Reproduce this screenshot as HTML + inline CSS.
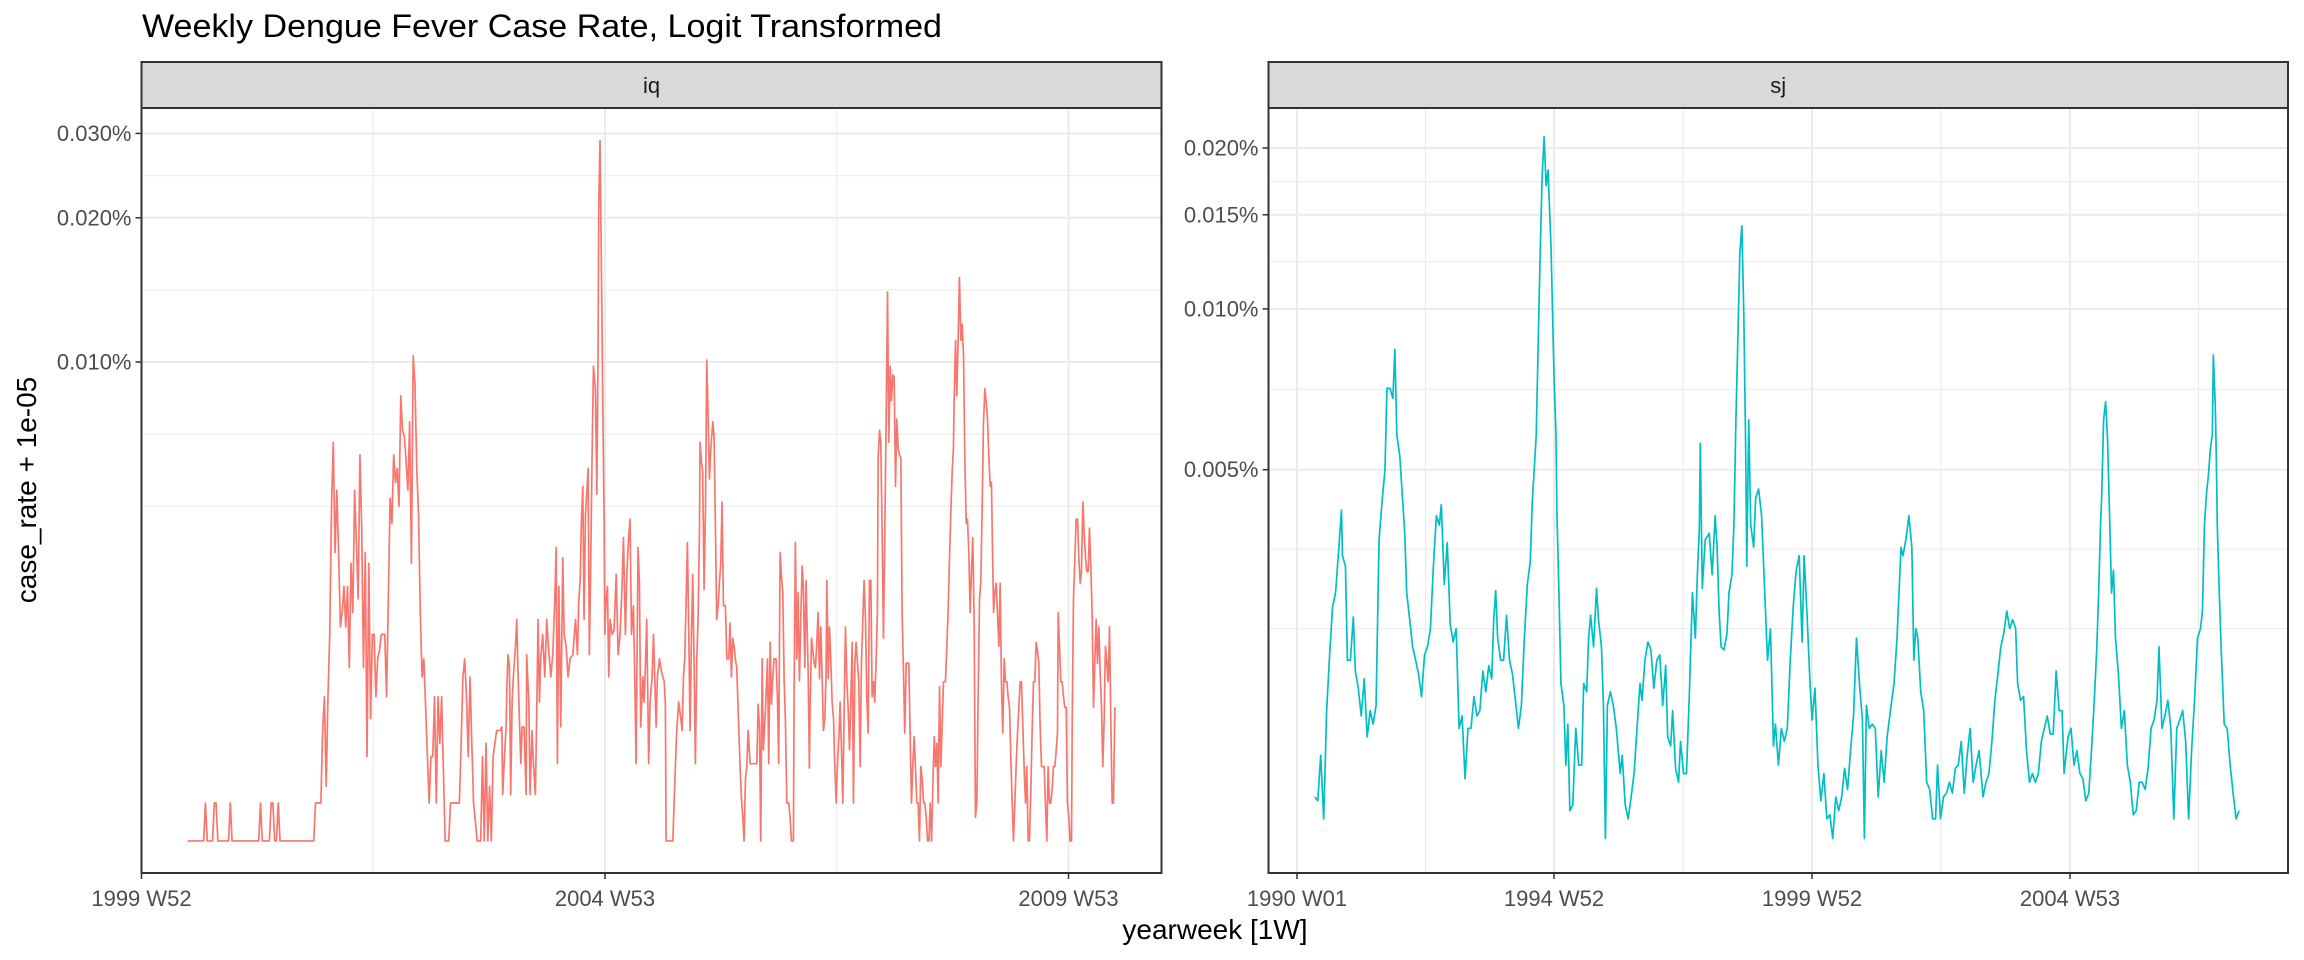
<!DOCTYPE html>
<html><head><meta charset="utf-8"><title>Weekly Dengue Fever Case Rate</title>
<style>
html,body{margin:0;padding:0;background:#fff;}
svg{display:block;font-family:"Liberation Sans",Arial,sans-serif;}
</style></head>
<body>
<svg id="chart" width="2304" height="960" viewBox="0 0 2304 960" xmlns="http://www.w3.org/2000/svg">
<rect width="2304" height="960" fill="#fff"/>
<text x="142" y="37" font-size="32" fill="#000" textLength="800" lengthAdjust="spacingAndGlyphs">Weekly Dengue Fever Case Rate, Logit Transformed</text>
<text transform="translate(36,490) rotate(-90)" text-anchor="middle" font-size="28" fill="#000">case_rate + 1e-05</text>
<text x="1215" y="939" text-anchor="middle" font-size="28" fill="#000">yearweek [1W]</text>
<defs>
<clipPath id="clipIq"><rect x="141.5" y="108" width="1020" height="765"/></clipPath>
<clipPath id="clipSj"><rect x="1268.5" y="108" width="1019.5" height="765"/></clipPath>
</defs>
<g id="panels"></g>
</svg>
<script>
// ---------- iq data (case_rate per million) ----------
// weekly readings starting 2000 W26 (week 26 after 1999 W52)
const iqStartWeek = 26;
const iqRateA = [0,0,0,0,0,0,0,0,0,0, 2,0,0,0,0,2,2,0,0,0, 0,0,0,0,2,0,0,0,0,0, 0,0,0,0,0,0,0,0,0,0,
0,2,0,0,0,0,0,2,2,0, 0,2,0,0,0,0,0,0,0,0, 0,0,0,0,0,0,0,0,0,0, 0,0,2,2,2,2,
7,10,3,10,17,40,58,30,44,30,18,20,24,18,24,13,28,20,44,32,22,54,35,13,30,5,28,8,17,17,
10,14,15,17,17,17,10,22,42,36,54,46,50,40,75,62,60,52,44,65,28,93,80,50,38,20,12,14,9,5,
2,5,5,10,2,10,6,10,4,0,0,0,2,2,2,2,2,2,6,12,14,10,5,12,6,2,1,0,0,0,5,0,6,0,3,0,5,6,7,7,7];
// later readings: weeks since 1999 W52
const iqWeekB = [202.9,203.4,204.2,205.3,205.7,206.4,207.2,207.9,208.7,209.4,210.6,211.3,212.1,212.8,213.6,214.3,215.4,216.6,216.9,218.1,
218.8,219.9,220.7,221.8,222.6,223.3,224.1,224.8,225.9,227.1,228.2,229.3,230.5,231.6,232.7,233.5,234.2,235,236.1,237.2,
238,239.1,240.2,241.3,242.9,244.4,245.5,246.2,247,247.7,248.5,249.2,250,250.7,251.5,252.2,253,253.7,254.5,255.6,
256.4,257.1,257.5,258.2,259,259.7,260.5,260.9,261.6,262.4,263.1,263.9,265,266.1,267.3,268.4,269.5,270.6,271.4,272.5,
273.3,274,275.1,275.9,277,277.8,278.5,279.6,280.4,281.1,282.3,283,283.8,284.5,285.6,286.4,287.5,288.3,289,289.8,
290.5,291.7,292.4,293.5,294.3,295,295.4,297.3,299.2,299.9,300.7,301.4,302.5,303.7,304.4,305.2,305.9,306.7,307.4,308.2,
308.9,309.7,310.4,311.2,311.9,312.7,313.4,314.2,314.5,315.3,316,316.8,317.6,318.3,319.1,319.8,320.6,321.7,322.4,323.2,
323.9,324.7,325.4,326.2,326.9,327.7,328.8,329.6,330.7,331.4,332.2,332.9,333.7,334.4,335.2,336.3,337.1,337.8,338.6,339.3,
340.1,340.8,341.6,342.7,343.8,345,346.5,347.2,348,348.7,349.5,350.2,351.3,352.5,353.2,354,354.7,355.5,356.2,357.3,
358.1,358.8,359.6,360.3,361.1,361.9,362.6,363.4,364.5,365.2,366,367.1,367.5,368.2,369,369.7,370.5,371.2,372,372.7,
373.5,374.2,375.4,376.1,
376.5,377.3,378.0,378.8,379.5,380.3,381.0,381.8,382.5,383.3,384.0,384.8,385.5,385.9,386.7,387.4,388.2,388.9,389.7,390.4,
391.2,391.9,392.7,393.4,394.2,394.9,395.7,396.4,397.2,397.9,398.7,399.4,400.2,400.9,401.7,402.4,403.2,403.9,404.7,405.4,
406.2,406.9,407.7,408.4,409.2,409.9,410.7,411.4,412.2,412.9,413.7,414.4,414.8,415.6,416.3,417.1,417.8,418.6,419.3,420.1,
420.8,421.6,422.3,423.1,423.8,424.6,425.3,426.1,426.8,427.6,428.3,429.1,429.8,430.6,431.3,432.1,432.8,433.6,434.3,435.1,
435.8,436.6,437.3,438.1,438.8,439.6,440.4,441.1,441.9,442.6,443.4,444.1,444.9,445.6,446.4,447.1,447.9,448.6,449.4,450.1,
450.9,451.6,452.7,453.5,454.2,455.0,455.7,456.5,457.2,457.6,458.4,459.1,459.9,460.6,461.4,462.1,462.9,463.6,464.4,465.1,
465.9,466.6,467.4,468.1,468.9,469.6,470.4,471.1,471.9,472.6,473.4,474.1,474.9,475.6,476.4,477.1,477.9,478.6,479.4,479.8,
480.5,481.3,482.0,482.8,483.5,484.3,485.0,485.8,486.5,487.3,488.0,488.8,489.5,490.3,491.0,491.8,492.5,493.3,494.0,494.8,
495.5,496.3,497.0,497.8,498.5,499.3,500.0,500.8,501.5,502.3,503.0,503.8,504.5,505.3,506.0,506.8,507.5,508.3,509.0,509.8,
510.5,511.3,512.0,512.8,513.5,514.3,515.0,515.8,516.2,516.9,517.7,518.4,519.2,519.9,520.7,521.4,522.2,522.9,523.7,524.1,
524.8,525.6,526.3,527.1,527.8,528.6,529.3,530.1,530.8,531.6,532.3,533.1,533.8,534.6,535.3,536.1,536.8,537.6,538.3,539.1,
539.8,540.6,541.3,542.1,542.8,543.6,544.3,545.1,545.8,546.6,547.3,548.1];
const iqRateB = [7.3,2.5,4.5,7.3,10.6,14.5,13,2.5,9.7,12,15.5,19,12,8,4.5,7.3,7.3,2.5,14.5,9.5,
2.5,7,4.5,2.5,9,19,9.5,14,17,12,19,15,12,14.5,21.5,31,4.5,24,7.3,29,
17,15.5,12,14,14.5,19,14.5,21.5,25,36,45,19,38,43,50,14.5,29,53,88,78,
43,95,205,280,145,76,37,17,22,24,12,19,17,17.5,26,14.5,17,24,33,17,
26,31,37,17,21,11.6,4.5,31,24.5,7.3,12,9.5,13.5,19,4.5,9.5,12,17,12,7.3,
12,14,13,12,11.6,9.3,0,0,0,2,4.5,7,9.5,8,7,12,14,22,32,17,
7,17,26,13,4.5,14,19,34,58,52,49,23.5,40,91,66,47,56,65,60,35,
19,21,24.5,28,41,21,21,14,14,18.5,12,16.5,15.5,14,13,7.3,4.2,2.3,1.2,0,
3.5,4.2,7,4.5,4.5,4.5,4.5,9.3,7.3,0,14,5.5,8.5,14,4.5,16,9.3,12,14,14,
10,4.5,30,26,23,11.6,7.7,2,2,1.2,0,0,10.6,32,14,23,11.6,18.5,27.5,24,
13,25,12.5,4.2,
9,16.5,15,13.5,13,16,20,11.8,18,11.8,7,8,12.5,25,11.8,18,13.5,9.5,8,4.3,
2,4.5,6.5,9.5,5.5,2,9,18,11.5,9,5.5,9.5,16,2,13.5,16,13.5,11.5,4.3,13.5,
19,25,19,10,6.8,25,25,10,11.5,9.5,14,20,53,62,58,33,16.5,35,66,130,
58,88,73,84,83,45,66,56,54,53,20,12.5,6.8,13.5,13.5,13.5,6.8,2,4.3,6.5,
4.3,2,2,0,4.3,3.5,2,2,1.2,0,0,2,0,3,6.5,4.3,6,2,11,4.3,
7.7,11.5,11.5,15.5,20,29,38,49,56,73,101,75,104,140,101,110,93,54,36,37,
30,20,27,33,18,1.2,2,10,22,24.5,40,64,78,73,66,54,45,46,27,20,
23,24.5,20,15.5,24.5,11,6.8,14,11.5,11.5,10,9,5,2,0,2,4.3,6.8,9,11.5,
11.5,7.3,4.3,2,4.3,0,0,2.8,6.8,11.5,11.5,16,15,13.5,7.5,4.3,4.3,4.3,2,0,
4.3,2,2,2.8,4.3,4.3,5.3,6.8,20,15.5,11.5,11.5,10,9,9,2,1.2,0,0,8,
22,29,37,37,29,24.5,26.5,41,34,29,26.5,26.5,35,27,20,9,13.5,19,13.5,18,
12.5,9,4.3,8,15.5,13.5,11.5,18,8,2,2,9];
const iqYTicks = [0.0001, 0.0002, 0.0003];
const iqYTickLabels = ["0.010%", "0.020%", "0.030%"];
const iqYMinor = [0.00005, 0.0000707, 0.0001414, 0.000245];
const iqXTicks = [0, 261, 522];
const iqXTickLabels = ["1999 W52", "2004 W53", "2009 W53"];
const iqXMinor = [130.5, 391.5];

// ---------- sj data (case_rate per million) ----------
const sjWeek = [18,21,24,27,30,33,36,39,42,45,46,49,51,54,57,59,62,65,68,71,74,77,80,83,86,89,91,94,97,99,
101,104,107,109,111,114,117,120,123,126,129,132,135,138,141,144,146,149,152,155,158,161,164,167,170,173,176,179,182,185,
188,191,194,197,199,201,203,206,209,212,215,218,221,224,227,230,233,236,238,242,244,246,248,250,252,254,
257,260,262,263,265,267,270,272,274,276,279,282,285,288,290,293,295,297,300,303,305,308,310,312,314,317,320,323,327,329,
332,335,338,341,344,347,349,352,355,358,361,364,367,370,373,375,378,380,383,386,388,391,394,397,400,403,405,407,408,410,
413,417,420,423,425,427,429,432,435,437,440,442,444,446,448,450,452,454,455,457,459,462,464,467,470,473,476,479,482,484,487,490,
493,496,499,502,505,508,511,513,516,519,521,524,527,530,533,536,539,542,545,548,551,554,557,560,563,566,569,572,574,576,
579,582,585,588,591,594,597,601,604,607,609,611,613,616,619,622,624,626,628,631,634,637,640,643,646,648,651,654,657,660,
663,666,669,672,675,678,681,684,687,690,694,697,700,703,706,709,712,715,718,721,724,727,729,
732,735,738,741,744,747,750,753,756,759,762,765,768,771,774,776,780,783,786,789,792,795,798,801,804,807,809,811,813,814,
816,818,820,822,824,826,828,831,834,837,840,843,846,849,852,855,858,861,864,867,870,872,875,878,881,884,887,890,893,896,
899,902,905,908,911,914,916,918,920,922,924,926,927,929,930,931,933,935,938,941,944,947,950,953];
const sjRate = [2.2,2,4.6,1.1,7.7,12.5,17.7,19.4,25,32,24.5,23,12,12,16.5,11,9.5,7.3,10.3,5.8,7.7,6.7,8.1,27,33.5,40,61,61,58,74,
48,43,33.5,28,19.4,16.2,13.3,12,10.7,8.8,12.5,13.3,15.2,23,31,29.4,33,20.5,26.5,15.7,13.8,15.2,6.4,7.3,3.2,6.4,6.4,8.8,7.3,7.7,
11,9.2,11.5,10.3,16.2,19.7,14.2,12,12,16.7,12,10.7,8.5,6.4,8.1,14.2,20.5,23.7,33.5,48,76,117,167,200,160,172,
120,65,48,31,19.4,9.9,8.1,4,6.7,1.5,1.8,6.4,4,4,9.9,9.2,14.2,16.7,13.3,20,16.2,13.3,8.1,0.2,8.1,9.2,8.1,6.4,3.5,4.6,
1.8,1.1,2.2,3.5,6.4,9.9,8.5,12,13.8,13,9.5,12,12.5,8.1,11.5,5.8,5.2,7.7,3.8,3,5.5,3.5,3.5,9.2,19.4,14.2,21.8,28.7,46,20,
27,28,21.8,31,25.8,17.2,13.3,13,14.7,19.4,21.8,29.4,51.7,78,117,133,88,42.8,23,52,29.4,25.8,34.3,36,31,20,12,15.2,5.2,6.7,4,6.4,
5.5,6.4,12,17.7,22.4,24.5,13.8,24.5,16.7,9.9,7,9.5,4,2,3.5,1.1,1.3,0.2,2.2,1.5,2.2,3.8,2.6,4.9,7.3,14.2,9.9,7,0.2,8.1,
6.4,6.7,6.4,2.2,4.9,3,5.8,8.1,9.9,14.2,19.4,25.8,24.5,27,31,25.8,12,15.2,14.2,9.2,7.7,3,2.6,1.1,1.1,4,1.1,2.2,2.4,3,
2.4,3.8,4,5.5,2.4,4.6,6.4,3,4,4.9,2.2,3,3.5,5.5,8.5,10.7,13.3,14.7,17.2,15.2,16.2,15.2,9.9,
8.5,8.8,4.9,3,3.5,3,3.5,5.5,6.4,7.3,6,6,11,7.7,7.7,3.5,5.8,6.4,4,4.9,3.5,3.2,2,2.4,5.2,9.2,13,19.4,30,34.3,
52,57,47,31,19.4,22.4,14.2,10.7,6.4,7.7,4,3,1.3,1.5,3,3,2.6,3.8,6.4,7,8.5,13.3,6.4,7.3,8.5,6.4,1.1,6.4,7,7.7,
5.5,1.1,4.9,8.5,14.2,15.2,17.2,29.4,35,38.8,44.7,48.2,72,55.5,42.8,29.4,19.4,13,6.7,6.4,4,2.4,1.1,1.5];
const sjYTicks = [0.00005, 0.0001, 0.00015, 0.0002];
const sjYTickLabels = ["0.005%", "0.010%", "0.015%", "0.020%"];
const sjYMinor = [0.0000252, 0.0000355, 0.0000707, 0.0001225, 0.000173];
const sjXTicks = [0, 260, 521, 782];
const sjXTickLabels = ["1990 W01", "1994 W52", "1999 W52", "2004 W53"];
const sjXMinor = [130, 390.5, 651.5, 912];

const NS = "http://www.w3.org/2000/svg";
const root = document.getElementById("panels");
function mk(tag, attrs, parent){
  const e = document.createElementNS(NS, tag);
  for (const k in attrs) e.setAttribute(k, attrs[k]);
  (parent || root).appendChild(e);
  return e;
}
function logit(p){ return Math.log(p/(1-p)); }

function drawPanel(cfg){
  const {name, left, right, top, stripTop, bottom, xs, ys, clip, color} = cfg;
  const g = mk("g", {});
  
  
  // background
  const bg = mk("rect", {x:left, y:top, width:right-left, height:bottom-top, fill:"#fff"}, g);
  
  
  // minor gridlines
  cfg.yMinor.forEach(p => {
    const y = ys(p);
    const l = mk("line", {x1:left, x2:right, y1:y, y2:y, stroke:"#EBEBEB", "stroke-width":1}, g);
    
    
  });
  cfg.xMinor.forEach(w => {
    const x = xs(w);
    const l = mk("line", {x1:x, x2:x, y1:top, y2:bottom, stroke:"#EBEBEB", "stroke-width":1}, g);
    
    
  });
  // major gridlines
  cfg.yTicks.forEach((p, i) => {
    const y = ys(p);
    const l = mk("line", {x1:left, x2:right, y1:y, y2:y, stroke:"#EBEBEB", "stroke-width":2}, g);
    
    
    const t = mk("line", {x1:left-6, x2:left, y1:y, y2:y, stroke:"#333", "stroke-width":1.5}, g);
    
    
    const lab = mk("text", {x:left-10, y:y+7.5, "text-anchor":"end", "font-size":22, fill:"#4D4D4D"}, g);
    
    
    lab.textContent = cfg.yTickLabels[i];
  });
  cfg.xTicks.forEach((w, i) => {
    const x = xs(w);
    const l = mk("line", {x1:x, x2:x, y1:top, y2:bottom, stroke:"#EBEBEB", "stroke-width":2}, g);
    
    
    const t = mk("line", {x1:x, x2:x, y1:bottom, y2:bottom+6, stroke:"#333", "stroke-width":1.5}, g);
    
    
    const lab = mk("text", {x:x, y:906, "text-anchor":"middle", "font-size":22, fill:"#4D4D4D"}, g);
    
    
    lab.textContent = cfg.xTickLabels[i];
  });
  // series line
  let d = "";
  cfg.weeks.forEach((w, i) => {
    const p = cfg.rates[i]*1e-6 + 1e-5;
    d += (i ? "L" : "M") + xs(w).toFixed(2) + "," + ys(p).toFixed(2);
  });
  const path = mk("path", {d:d, fill:"none", stroke:color, "stroke-width":1.7, "stroke-linejoin":"round", "clip-path":"url(#" + clip + ")"}, g);
  
  
  // panel border
  const bd = mk("rect", {x:left, y:top, width:right-left, height:bottom-top, fill:"none", stroke:"#333", "stroke-width":2}, g);
  
  
  // strip
  const st = mk("rect", {x:left, y:stripTop, width:right-left, height:top-stripTop, fill:"#D9D9D9", stroke:"#333", "stroke-width":2}, g);
  
  
  const stt = mk("text", {x:(left+right)/2, y:stripTop+31, "text-anchor":"middle", "font-size":22, fill:"#1A1A1A"}, g);
  
  
  stt.textContent = name;
}

// iq scales
const iqXs = w => 141.5 + w * 463.5 / 261;
const iqYs = p => 362 - 208 * (logit(p) - logit(1e-4));
const iqWeeks = iqRateA.map((v, i) => iqStartWeek + i).concat(iqWeekB);
const iqRates = iqRateA.concat(iqRateB);
drawPanel({name:"iq", left:141.5, right:1161.5, stripTop:62, top:108, bottom:873, xs:iqXs, ys:iqYs, clip:"clipIq", color:"#F8766D",
  weeks:iqWeeks, rates:iqRates, yTicks:iqYTicks, yTickLabels:iqYTickLabels, yMinor:iqYMinor,
  xTicks:iqXTicks, xTickLabels:iqXTickLabels, xMinor:iqXMinor});

// sj scales
const sjXs = w => 1297 + w * 0.9885;
const sjYs = p => 469.7 - 232 * (logit(p) - logit(5e-5));
drawPanel({name:"sj", left:1268.5, right:2288, stripTop:62, top:108, bottom:873, xs:sjXs, ys:sjYs, clip:"clipSj", color:"#00BFC4",
  weeks:sjWeek, rates:sjRate, yTicks:sjYTicks, yTickLabels:sjYTickLabels, yMinor:sjYMinor,
  xTicks:sjXTicks, xTickLabels:sjXTickLabels, xMinor:sjXMinor});
</script>
</body></html>
